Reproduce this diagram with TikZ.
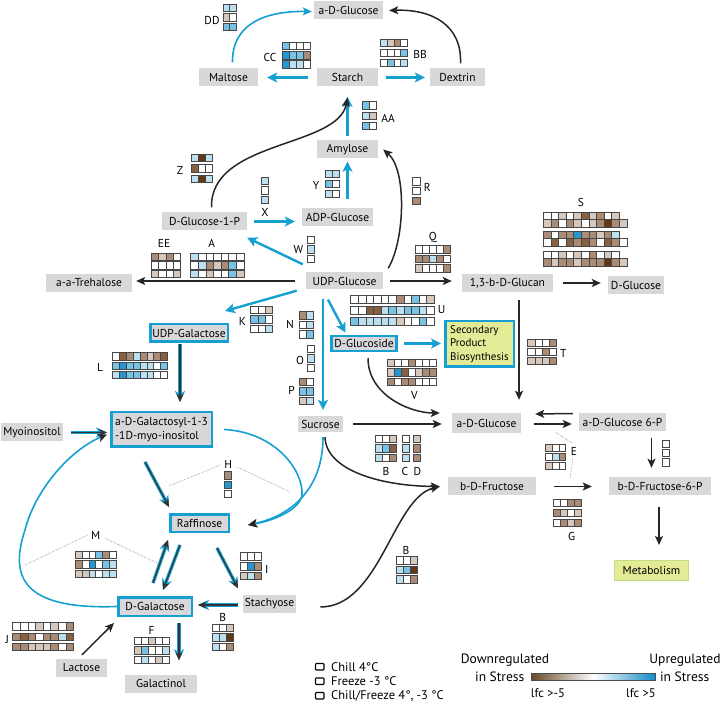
\documentclass[tikz,border=0pt]{standalone}
\usepackage{fontspec}
\setmainfont{PT Sans}
\usetikzlibrary{arrows.meta,calc}

\definecolor{boxgray}{RGB}{216,216,218}
\definecolor{myblue}{RGB}{22,160,210}
\definecolor{ylw}{RGB}{228,235,150}
\definecolor{ygreen}{RGB}{196,220,130}
% heat map colours
\definecolor{w}{RGB}{255,255,255}
\definecolor{d1}{RGB}{214,200,188}
\definecolor{d2}{RGB}{170,140,118}
\definecolor{d3}{RGB}{135,95,65}
\definecolor{d4}{RGB}{100,55,22}
\definecolor{u1}{RGB}{188,224,240}
\definecolor{u2}{RGB}{120,195,228}
\definecolor{u3}{RGB}{38,150,210}
\definecolor{cbdown}{RGB}{105,75,45}
\definecolor{cbup}{RGB}{20,140,200}

\newcommand{\mfont}{\fontsize{11.5}{12.5}\selectfont}
\newcommand{\lfont}{\fontsize{12.5}{13.5}\selectfont}
\newcommand{\cbfont}{\fontsize{13.5}{15}\selectfont}
% one row of cells: x, y, cell width, colours
\newcommand{\hmrow}[4]{%
  \foreach \c [count=\i from 0] in {#4}
    \filldraw[hmcell, fill=\c] ({#1+\i*#3},{#2}) rectangle ++(#3,7.4);}
% rows of cells: [pitch] x, y, cell width, {{row},{row},...}
\newcommand{\hmblock}[5][9.5]{%
  \foreach \r [count=\k from 0] in {#5} {%
    \edef\hmtmp{\noexpand\hmrow{#2}{#3+\k*#1}{#4}{\r}}\hmtmp}}

\tikzset{
  met/.style={fill=boxgray, inner sep=2pt, minimum height=18pt, font=\mfont},
  metb/.style={met, draw=myblue, line width=2.5pt},
  lbl/.style={font=\mfont, inner sep=0pt},
  hmcell/.style={draw=black!72, line width=0.6pt},
  karr/.style={draw=black!85, line width=1.5pt, -{Stealth[length=9pt,width=8pt,inset=2pt]}},
  barr/.style={draw=myblue, line width=2.4pt, -{Stealth[length=10pt,width=10pt,inset=2.5pt]}},
  bcurve/.style={draw=myblue, line width=1.6pt, -{Stealth[length=9pt,width=8pt,inset=2pt]}},
  bcurvek/.style={draw=myblue, line width=1.6pt, -{Stealth[length=9pt,width=8pt,inset=2pt,color=black!85]}},
  darr/.style={draw=black!80, line width=1.2pt, -{Stealth[length=8pt,width=7pt,inset=2pt]},
    preaction={draw=myblue, line width=3.4pt, -{Stealth[length=11pt,width=10pt,inset=3pt]}}},
  dots/.style={draw=black!60, densely dotted, line width=0.5pt},
  legsq/.style={draw=black, line width=1.1pt, rounded corners=0.8pt},
}

\begin{document}
\begin{tikzpicture}[x=1pt,y=-1pt]
  \useasboundingbox (0,0) rectangle (721,703);

  % metabolites
  \node[met, minimum width=69pt] (glcA) at (348.5,10.5) {a-D-Glucose};
  \node[met, minimum width=59pt] (maltose) at (228.5,77.5) {Maltose};
  \node[met, minimum width=61pt] (starch) at (347.5,77.5) {Starch};
  \node[met, minimum width=55pt] (dextrin) at (457.5,77.5) {Dextrin};
  \node[met, minimum width=61pt] (amylose) at (347.5,149.5) {Amylose};
  \node[met, minimum width=85pt] (glcip) at (204.5,221.5) {D-Glucose-1-P};
  \node[met, minimum width=71pt] (adpg) at (337.5,217) {ADP-Glucose};
  \node[met, minimum width=86pt] (treh) at (89,283) {a-a-Trehalose};
  \node[met, minimum width=77pt, minimum height=17pt] (udpg) at (344.5,281) {UDP-Glucose};
  \node[met, minimum width=91pt] (glucan) at (507.5,283) {1,3-b-D-Glucan};
  \node[met, minimum width=56pt] (dglc) at (636,285.5) {D-Glucose};
  \node[metb, minimum width=77.5pt, minimum height=17.5pt] (udpgal) at (189,333) {UDP-Galactose};
  \node[metb, minimum width=65pt, minimum height=15pt] (glcside) at (364,343.5) {D-Glucoside};
  \node[metb, fill=ylw, align=left, minimum width=68.5pt, minimum height=45.5pt,
    font=\fontsize{11}{13.3}\selectfont] (secprod) at (479.5,344) {Secondary\\Product\\Biosynthesis};
  \node[met, minimum width=62pt] (myo) at (32,432.5) {Myoinositol};
  \node[metb, align=left, minimum width=100.5pt, minimum height=34.5pt,
    font=\fontsize{11.5}{14}\selectfont] (galsyl) at (161.5,429.5) {a-D-Galactosyl-1-3\\-1D-myo-inositol};
  \node[met, minimum width=45pt, minimum height=16pt] (sucrose) at (320.5,424) {Sucrose};
  \node[met, minimum width=69pt, minimum height=20pt] (glcM) at (486.5,423) {a-D-Glucose};
  \node[met, minimum width=87pt] (glcvip) at (622.5,422.5) {a-D-Glucose 6-P};
  \node[met, minimum width=88pt] (fru) at (492,486.5) {b-D-Fructose};
  \node[met, minimum width=102pt] (fruvip) at (660,486) {b-D-Fructose-6-P};
  \node[met, fill=ylw, draw=ygreen, line width=1pt, minimum width=74pt, minimum height=20pt] (metab) at (651.5,570.5) {Metabolism};
  \node[metb, minimum width=58.5pt, minimum height=17.5pt] (raff) at (199.5,523) {Raffinose};
  \node[metb, minimum width=73.5pt, minimum height=18.5pt] (galac) at (155,606.5) {D-Galactose};
  \node[met, minimum width=53pt] (stach) at (269.5,603.5) {Stachyose};
  \node[met, minimum width=51pt] (lact) at (81.5,668) {Lactose};
  \node[met, minimum width=72pt] (galtol) at (161,683.5) {Galactinol};

  % starch branch
  \draw[bcurve] ([shift={(4,-6)}]maltose.north) .. controls (232,22) and (268,11) .. ([shift={(-2,1)}]glcA.west);
  \draw[barr, shorten <=9pt, shorten >=9pt] (starch.west) -- (maltose.east);
  \draw[barr, shorten <=8pt, shorten >=5pt] (starch.east) -- (dextrin.west);
  \draw[karr] ([shift={(3,-5)}]dextrin.north) .. controls (462,25) and (432,9) .. ([shift={(6,0)}]glcA.east);
  \draw[barr, shorten <=4pt, shorten >=10pt] (amylose.north) -- (starch.south);
  \draw[karr] ([shift={(7,-5)}]glcip.north) .. controls (210,140) and (338,148) .. ([shift={(0,11)}]starch.south);
  \draw[karr] ([shift={(5,-4)}]udpg.north east) .. controls (405,240) and (407,170) .. ([shift={(5,0)}]amylose.east);
  \draw[barr, shorten <=9pt, shorten >=3pt] (adpg.north -| amylose.south) -- (amylose.south);
  \draw[barr, shorten <=7pt, shorten >=7pt] (glcip.east) -- (glcip.east -| adpg.west);
  \draw[barr] ([shift={(-3,-8)}]udpg.north west) -- ([shift={(0,7)}]glcip.south east);
  \draw[karr, shorten <=11pt, shorten >=4pt] (udpg.west) -- (udpg.west -| treh.east);

  % from UDP-Glucose
  \draw[barr] ([shift={(-9,1)}]udpg.south west) -- ([shift={(-4,-12)}]udpgal.north east);
  \draw[barr] ([shift={(-21.5,9)}]udpg.south) -- ([shift={(2.5,-6)}]sucrose.north);
  \draw[barr] ([shift={(-16.5,10)}]udpg.south) -- ([shift={(-18.5,-2)}]glcside.north);
  \draw[karr, shorten <=7pt, shorten >=10pt] (udpg.east) -- (udpg.east -| glucan.west);
  \draw[karr, shorten <=10pt, shorten >=7pt] (glucan.east) -- (glucan.east -| dglc.west);
  \draw[karr, shorten <=8pt, shorten >=13pt] ([xshift=11.5pt]glucan.south) -- ([xshift=11.5pt]glucan.south |- glcM.north);
  \draw[barr, shorten <=6pt, shorten >=3pt] (glcside.east) -- (glcside.east -| secprod.west);
  \draw[karr] ([shift={(4,6)}]glcside.south) .. controls (368,395) and (410,413) .. ([shift={(-12,-10)}]glcM.west);

  % glucose / fructose
  \draw[karr, shorten <=10pt, shorten >=10pt] (sucrose.east) -- (sucrose.east -| glcM.west);
  \draw[karr] ([shift={(4.5,5)}]sucrose.south) .. controls (326,470) and (380,486) .. ([xshift=-8pt]fru.west);
  \draw[karr] ([shift={(24,3.5)}]stach.east) .. controls (380,607) and (393,498) .. ([xshift=-8pt]fru.west);
  \draw[karr] ([shift={(-6,-9)}]glcvip.west) -- ([shift={(14,-9)}]glcM.east);
  \draw[karr] ([shift={(13,1)}]glcM.east) -- ([shift={(-7,1.5)}]glcvip.west);
  \draw[karr, shorten <=6pt, shorten >=9pt] ([xshift=29pt]glcvip.south) -- ([xshift=29pt]glcvip.south |- fruvip.north);
  \draw[karr, shorten <=18pt, shorten >=17pt] (fru.east) -- (fru.east -| fruvip.west);
  \draw[karr, shorten <=12pt, shorten >=15pt] ([xshift=-1pt]fruvip.south) -- ([xshift=-1pt]fruvip.south |- metab.north);

  % galactose branch
  \draw[darr, shorten <=1pt, shorten >=9pt] ([xshift=-9pt]udpgal.south) -- ([xshift=-9pt]udpgal.south |- galsyl.north);
  \draw[darr, shorten <=8pt, shorten >=3pt] (myo.east) -- (myo.east -| galsyl.west);
  \draw[darr] ([shift={(-16.5,14)}]galsyl.south) -- ([shift={(0,-6)}]raff.north west);
  \draw[bcurvek] ([shift={(11,0)}]galsyl.east) .. controls (275,432) and (303,470) .. (302,494)
    .. controls (301,510) and (272,521) .. ([shift={(18,2)}]raff.east);
  \draw[bcurvek] ([shift={(2.5,5)}]sucrose.south) .. controls (323,490) and (290,516) .. ([shift={(18,2)}]raff.east);
  \draw[darr] ([shift={(-2,-13)}]galac.north) -- ([shift={(-31.5,7)}]raff.south);
  \draw[darr] ([shift={(-19.5,12)}]raff.south) -- ([shift={(8,-6)}]galac.north);
  \draw[darr] ([shift={(17.5,15)}]raff.south) -- ([shift={(-31.5,-6)}]stach.north);
  \draw[darr] ([shift={(-5,1.5)}]stach.west) -- ([shift={(5,-1.5)}]galac.east);
  \draw[darr, shorten <=6pt, shorten >=14pt] ([xshift=24pt]galac.south) -- ([xshift=24pt]galac.south |- galtol.north);
  \draw[karr] ([shift={(0.5,-4)}]lact.north) -- ([shift={(-3,6)}]galac.south west);
  \draw[bcurvek] (galac.west) .. controls (20,610) and (10,575) .. (25,530)
    .. controls (35,490) and (70,450) .. ([shift={(-3,5)}]galsyl.west);

  % gene labels
  \node[lbl] (lDD) at (212,20) {DD};
  \node[lbl] (lCC) at (270,57) {CC};
  \node[lbl] (lBB) at (420,54) {BB};
  \node[lbl] (lAA) at (388,118) {AA};
  \node[lbl] (lZ) at (180,170) {Z};
  \node[lbl] (lY) at (316,185) {Y};
  \node[lbl] (lX) at (265,212) {X};
  \node[lbl] (lW) at (298.3,250) {W};
  \node[lbl] (lR) at (427.3,187.3) {R};
  \node[lbl] (lEE) at (164,243) {EE};
  \node[lbl] (lA) at (211.7,243) {A};
  \node[lbl] (lQ) at (432.7,237.3) {Q};
  \node[lbl] (lS) at (581,202) {S};
  \node[lbl] (lU) at (441.7,310) {U};
  \node[lbl] (lV) at (414.3,396) {V};
  \node[lbl] (lT) at (563.3,353.3) {T};
  \node[lbl] (lK) at (242.3,321.7) {K};
  \node[lbl] (lN) at (290,324.3) {N};
  \node[lbl] (lO) at (300,360) {O};
  \node[lbl] (lP) at (291.7,390) {P};
  \node[lbl] (lL) at (100,367.3) {L};
  \node[lbl] (lH) at (228.3,464) {H};
  \node[lbl] (lB) at (386,471.7) {B};
  \node[lbl] (lC) at (405,471.7) {C};
  \node[lbl] (lD) at (417.3,471.7) {D};
  \node[lbl] (lE) at (574,451) {E};
  \node[lbl] (lG) at (571.7,536.7) {G};
  \node[lbl] (lBb) at (406,550) {B};
  \node[lbl] (lI) at (266.7,569.3) {I};
  \node[lbl] (lM) at (95.7,535) {M};
  \node[lbl] (lBc) at (222.7,617.3) {B};
  \node[lbl] (lF) at (151.7,630) {F};
  \node[lbl] (lJ) at (7.3,639.3) {J};

  % dotted leaders
  \draw[dots] (169,486) -- ([shift={(-8,1)}]lH.center);
  \draw[dots] ([shift={(9,3)}]lH.center) -- (290,492);
  \draw[dots] (25,565) -- ([shift={(-8,0)}]lM.center);
  \draw[dots] ([shift={(9,3)}]lM.center) -- (157,563);
  \draw[dots] (555,432) -- ([shift={(-2,-8)}]lE.center);
  \draw[dots] ([shift={(-1,7)}]lE.center) -- (570,478);

  % heat maps
  \hmblock[9.7]{223}{4}{6.7}{{u1,u1},{d1,w},{u2,u2}}
  \hmblock[9.2]{282.3}{42.3}{6.9}{{u2,w,w,w},{u3,u2,u2,d2},{u3,u1,u1,w}}
  \hmblock[10]{380}{39}{6.9}{{u1,d1,d2,w},{w,w,w,u2},{w,u2,w,u1}}
  \hmblock[10.3]{362}{101.7}{7.3}{{u2,w},{u1,d1},{u2,w}}
  \hmblock[10.5]{191}{154}{7.2}{{u1,d4,u1},{d3,w,w},{u1,d4,u1}}
  \hmblock[10]{325}{170}{7}{{u1,u1},{u2,w},{u1,w}}
  \hmblock[9.5]{261}{177}{7.5}{{u1},{w},{u1}}
  \hmblock[9.7]{307}{236}{7.3}{{w},{u1},{w}}
  \hmblock[9.7]{412.5}{177.5}{7.5}{{w},{w},{d2}}
  \hmblock[8.7]{151}{253}{7.4}{{d2,d1,d2,w},{w,w,w,w},{d1,w,w,d1}}
  \hmblock[8.7]{190.7}{253}{7.6}{{u1,w,w,w,w,w,w},{w,u1,d2,d1,d2,u2,w},{u1,w,d1,w,w,u2,d1}}
  \hmblock[9.5]{415}{245.7}{7}{{w,w,w,w,d2},{d2,d2,u1,d2,w},{d1,w,w,w,d2}}
  \hmrow{543.3}{212.3}{7.6}{w,w,d1,w,d1,d3,d1,d2,w,d1}
  \hmrow{543.3}{219.8}{7.6}{d1,d2,w,d2,d1,w,d1,d2,d4,d2,d1}
  \hmrow{543.3}{231.3}{7.6}{d2,w,d2,d2,u3,d2,d2,d1,d2,u1}
  \hmrow{543.3}{238.8}{7.6}{w,d3,w,d3,d2,d3,d2,w,d3,d2,w}
  \hmrow{543.3}{251.3}{7.6}{w,w,d1,w,d1,w,d2,w,d1,w}
  \hmrow{543.3}{258.8}{7.6}{d2,d1,d2,d2,d1,d2,d2,d2,d4,d2,d1}
  \hmblock[11]{350.7}{295.7}{7.6}{{w,w,w,w,w,w,d2,w,u2,w,d1},{w,w,d3,d3,u1,u2,u1,u2,u2,u1,w},{u2,u1,u1,u1,u1,u1,d1,w,w,u2,w}}
  \hmblock[9.7]{387.7}{359}{6.9}{{d1,w,w,d2,w,w,w},{d1,u3,d3,w,d1,d2,d2},{d2,w,d2,d2,w,w,w}}
  \hmblock[9.2]{527.7}{339}{7.1}{{d1,w,w,d2},{w,w,d2,w},{d1,d1,d1,d2}}
  \hmblock[9.7]{250.7}{306}{7.3}{{w,w,d1},{u2,u2,w},{w,w,u1}}
  \hmblock[9.5]{299.3}{311.7}{7}{{d2,u1},{w,u1},{w,u2}}
  \hmblock[9.5]{307.3}{345}{6.7}{{w},{u1},{w}}
  \hmblock[9.5]{299.3}{378.3}{7}{{d2,w},{u2,u2},{d1,u1}}
  \hmblock[9.3]{112.3}{352.7}{6.9}{{w,d3,d2,u1,d2,d1,d2,d3},{u2,u3,u2,u2,u1,u1,w,u2},{u1,u3,u2,u2,u1,u1,w,w}}
  \hmblock[9.2]{224.3}{471.7}{7.3}{{d2},{u3},{w}}
  \hmblock[9.5]{375.7}{435}{7}{{w,w,d1},{u1,u2,d3},{u1,w,d2}}
  \hmblock[9.5]{402.7}{435}{6.7}{{w},{u1},{u1}}
  \hmblock[9.5]{413.3}{435}{7.2}{{d1},{d2},{d2}}
  \hmblock[9.2]{545}{444}{6.9}{{d1,w,w},{w,u1,d2},{d1,w,w}}
  \hmblock[10]{553.3}{499.3}{7.1}{{w,w,d2,d2},{d2,d1,w,d1},{w,d2,d1,d2}}
  \hmblock[9.3]{662.3}{440}{7}{{w},{w},{w}}
  \hmblock[9.5]{396}{556.7}{7}{{w,w,d1},{u1,u2,d4},{u1,w,d2}}
  \hmblock[9.7]{240}{552.7}{7}{{w,w,w},{w,u3,d2},{d1,u1,d2}}
  \hmblock[9.5]{75}{551}{6.9}{{d1,w,w,u2,d2,w},{d2,w,u3,w,u2,u1},{d1,d1,u1,w,u1,u1}}
  \hmblock[9.5]{212.3}{624}{7}{{w,w,d1},{u1,u1,d4},{u1,w,d2}}
  \hmblock[9.3]{134.3}{637.3}{7}{{w,w,d1,w,w},{d1,u2,w,w,u1},{w,u1,w,d1,w}}
  \hmblock[10.3]{12.7}{622.7}{7.6}{{w,w,w,d1,w,d1,w,d2},{d2,d3,d2,w,d2,d2,u1,d3},{d2,d2,d1,d1,d1,d2,w,d2}}

  % legend
  \draw[legsq] (315.5,663.5) rectangle ++(8.5,6.5);
  \draw[legsq] (315.5,678) rectangle ++(8.5,6.5);
  \draw[legsq] (315.5,692.5) rectangle ++(8.5,6.5);
  \node[lbl, font=\lfont, anchor=west] (lchill) at (331,667) {Chill 4°C};
  \node[lbl, font=\lfont, anchor=west] (lfreeze) at (331,681.5) {Freeze -3 °C};
  \node[lbl, font=\lfont, anchor=west] (lboth) at (331,696) {Chill/Freeze 4°, -3 °C};
  \shade[left color=cbdown, right color=cbup, middle color=white] (531.7,673.3) rectangle (655,680.7);
  \draw[black!70, line width=0.8pt] (531.7,673.3) rectangle (655,680.7);
  \node[lbl, font=\cbfont] (ldown) at (505,660) {Downregulated};
  \node[lbl, font=\cbfont, anchor=east] (ldowns) at (524.5,676.7) {in Stress};
  \node[lbl, font=\cbfont] (lup) at (685,660) {Upregulated};
  \node[lbl, font=\cbfont] (lups) at (684.7,676.7) {in Stress};
  \node[lbl, font=\fontsize{12.5}{13.5}\selectfont] (lmin) at (548,693) {lfc >-5};
  \node[lbl, font=\fontsize{12.5}{13.5}\selectfont] (lmax) at (641,693) {lfc >5};
\end{tikzpicture}
\end{document}
